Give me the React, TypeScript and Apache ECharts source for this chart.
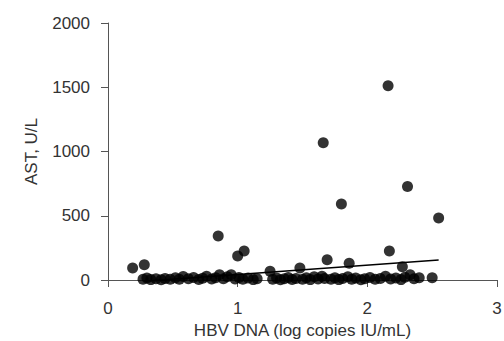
import React, { useEffect, useRef } from "react";
import * as echarts from "echarts";

const xTicks = [0, 1, 2, 3];
const yTicks = [0, 500, 1000, 1500, 2000];
const xAxisName = "HBV DNA (log copies IU/mL)";
const yAxisName = "AST, U/L";

// Elevated points
const upperPoints: [number, number][] = [
  [0.19, 94], [0.28, 119], [0.85, 343], [1.0, 187], [1.05, 226], [1.25, 68],
  [1.48, 94], [1.66, 1068], [1.69, 158], [1.8, 592], [1.86, 130], [2.16, 1512],
  [2.17, 226], [2.27, 104], [2.31, 727], [2.55, 483],
];

// Dense row of points near zero
const lowPoints: [number, number][] = [
  [0.27, 5], [0.3, 15], [0.33, 3], [0.37, 10], [0.41, 2], [0.44, 12], [0.48, 5],
  [0.52, 18], [0.55, 6], [0.58, 28], [0.62, 10], [0.66, 20], [0.7, 4], [0.73, 14],
  [0.76, 30], [0.8, 8], [0.83, 18], [0.86, 40], [0.89, 10], [0.92, 25],
  [0.95, 40], [0.98, 8], [1.01, 20], [1.04, 5], [1.08, 15], [1.12, 3], [1.15, 10],
  [1.27, 5], [1.3, 15], [1.33, 2], [1.36, 10], [1.39, 20], [1.42, 4], [1.45, 12],
  [1.5, 6], [1.53, 18], [1.56, 3], [1.59, 25], [1.62, 8], [1.65, 30], [1.67, 12],
  [1.72, 5], [1.75, 18], [1.78, 3], [1.81, 12], [1.85, 25], [1.88, 6], [1.91, 15],
  [1.95, 2], [1.98, 10], [2.02, 20], [2.06, 5], [2.1, 12], [2.14, 30], [2.18, 8],
  [2.22, 15], [2.26, 3], [2.29, 22], [2.33, 40], [2.36, 10], [2.4, 18], [2.5, 17],
];

// Regression line endpoints
const fitLine: [number, number][] = [
  [0.28, -9],
  [2.55, 156],
];

const FONT = "'Liberation Sans', Arial, Helvetica, sans-serif";
const AXIS_COLOR = "#555555";
const TEXT_COLOR = "#333333";

export default function App() {
  const ref = useRef<HTMLDivElement>(null);
  useEffect(() => {
    if (!ref.current) return;
    const chart = echarts.init(ref.current, undefined, { renderer: "svg" });
    chart.setOption({
      animation: false,
      backgroundColor: "#ffffff",
      grid: {
        left: 108, top: 23, width: 389, height: 257,
        containLabel: false, outerBoundsMode: "none",
      },
      xAxis: {
        type: "value",
        min: xTicks[0],
        max: xTicks[xTicks.length - 1],
        interval: 1,
        name: xAxisName,
        nameLocation: "middle",
        nameGap: 42,
        nameTextStyle: { fontFamily: FONT, fontSize: 17, color: TEXT_COLOR },
        axisLine: { show: true, lineStyle: { color: AXIS_COLOR, width: 1 } },
        axisTick: { show: true, inside: false, length: 7, lineStyle: { color: AXIS_COLOR } },
        axisLabel: {
          fontFamily: FONT, fontSize: 17, color: TEXT_COLOR, margin: 20,
          formatter: (v: number) => String(v),
        },
        splitLine: { show: false },
      },
      yAxis: {
        type: "value",
        min: yTicks[0],
        max: yTicks[yTicks.length - 1],
        interval: 500,
        name: yAxisName,
        nameLocation: "middle",
        nameGap: 68,
        nameRotate: 90,
        nameTextStyle: { fontFamily: FONT, fontSize: 17, color: TEXT_COLOR },
        axisLine: { show: true, lineStyle: { color: AXIS_COLOR, width: 1 } },
        axisTick: { show: true, inside: false, length: 7, lineStyle: { color: AXIS_COLOR } },
        axisLabel: {
          fontFamily: FONT, fontSize: 17, color: TEXT_COLOR, margin: 18,
          formatter: (v: number) => String(v),
        },
        splitLine: { show: false },
      },
      series: [
        {
          type: "scatter",
          data: lowPoints,
          symbol: "circle",
          symbolSize: 11,
          itemStyle: { color: "#000000" },
        },
        {
          type: "scatter",
          data: upperPoints,
          symbol: "circle",
          symbolSize: 11,
          itemStyle: { color: "#000000" },
        },
        {
          type: "line",
          data: fitLine,
          symbol: "none",
          clip: false,
          lineStyle: { color: "#000000", width: 1.5 },
          z: 3,
        },
      ],
    });
    return () => chart.dispose();
  }, []);
  return (
    <div
      ref={ref}
      style={{ position: "fixed", left: 0, top: 0, width: 504, height: 341 }}
    />
  );
}
